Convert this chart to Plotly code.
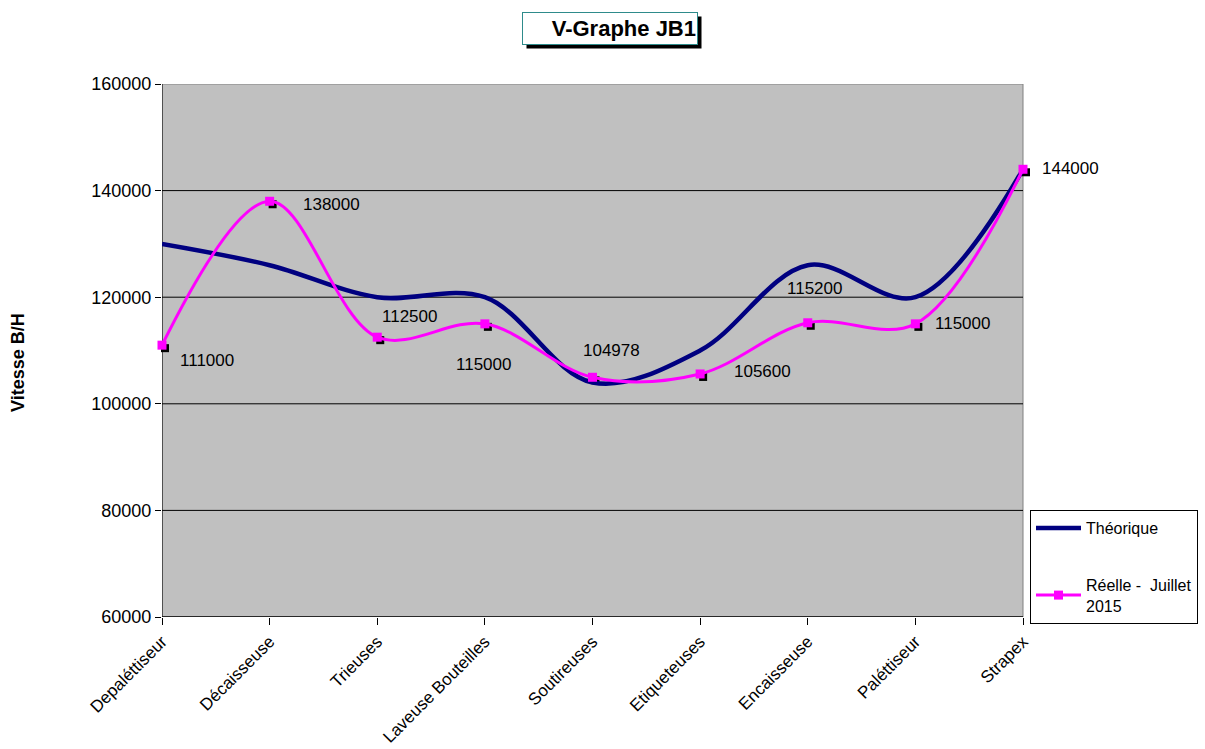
import plotly.graph_objects as go

categories = ["Depaléttiseur", "Décaisseuse", "Trieuses", "Laveuse Bouteilles",
              "Soutireuses", "Etiqueteuses", "Encaisseuse", "Paléttiseur", "Strapex"]
theorique = [130000, 126000, 120000, 120000, 104000, 110000, 126000, 120000, 144000]
reelle = [111000, 138000, 112500, 115000, 104978, 105600, 115200, 115000, 144000]
y_ticks = [60000, 80000, 100000, 120000, 140000, 160000]
y_grid = [80000, 100000, 120000, 140000]

# label offsets in pixels (style only)
lab_dx = [16, 31, 3, -31, -12, 32, -23, 18, 17]
lab_dy = [-15, -3, 21, -41, 27, 2, 34, 0, 1]

W, H = 1205, 749
ML, MT, MB = 162, 84, 132
CORE_W = 861          # pixel width from first to last category
EXT = 6               # extra px of domain to the right (keeps shadow in range)
PW = CORE_W + EXT
MR = W - ML - PW
PH = H - MT - MB
n = len(categories)
px_per_x = CORE_W / (n - 1)
XR = [0, (n - 1) + EXT / px_per_x]
YR = [60000, 160000]
SH = 3  # shadow offset in px
ys = YR[1] - YR[0]
FONT = "Liberation Sans, Arial, sans-serif"

xi = list(range(n))

fig = go.Figure()
# shadow markers on hidden overlay axes with shifted ranges
fig.add_trace(go.Scatter(x=xi, y=reelle, mode="markers", xaxis="x2", yaxis="y2",
                         marker=dict(symbol="square", size=8, color="black"),
                         showlegend=False, hoverinfo="skip", cliponaxis=False))
fig.add_trace(go.Scatter(x=xi, y=theorique, mode="lines", name="Théorique",
                         xaxis="x3", yaxis="y3", legendgroup="a",
                         line=dict(color="#000080", width=4.5, shape="spline", smoothing=1),
                         cliponaxis=False))
fig.add_trace(go.Scatter(x=xi, y=reelle, mode="lines+markers", name="Réelle -  Juillet<br>2015",
                         xaxis="x3", yaxis="y3", legendgroup="b",
                         line=dict(color="#FF00FF", width=3, shape="spline", smoothing=1),
                         marker=dict(symbol="square", size=9, color="#FF00FF"),
                         cliponaxis=False))

annotations = []
for i, v in enumerate(reelle):
    annotations.append(dict(x=i, y=v, xref="x", yref="y", text=str(v), showarrow=False,
                            xanchor="left", yanchor="middle", xshift=lab_dx[i], yshift=lab_dy[i],
                            font=dict(family=FONT, size=17, color="black")))

tx = (610 - ML) / PW
ty = (MT + PH - 29) / PH
# title box shadow + title
annotations.append(dict(x=tx, y=ty, xref="paper", yref="paper", xanchor="center", yanchor="middle",
                        text=" ", showarrow=False, width=172, height=29, bgcolor="black",
                        xshift=4, yshift=-4, borderpad=1))
annotations.append(dict(x=tx, y=ty, xref="paper", yref="paper", xanchor="center", yanchor="middle",
                        text="<b>V-Graphe JB1</b>", showarrow=False, width=172, height=29,
                        align="right", bgcolor="white", bordercolor="#2E8B8B", borderwidth=1,
                        borderpad=1, font=dict(family=FONT, size=22, color="black")))
# y axis title
annotations.append(dict(x=0, y=(MT + PH - 363) / PH, xref="paper", yref="paper", xshift=-144,
                        text="<b>Vitesse B/H</b>", textangle=-90, showarrow=False,
                        xanchor="center", yanchor="middle",
                        font=dict(family=FONT, size=18, color="black")))

shapes = [dict(type="rect", xref="x", yref="y", x0=0, x1=n - 1, y0=YR[0], y1=YR[1],
               fillcolor="#C0C0C0", line=dict(color="#808080", width=1), layer="below")]
for g in y_grid:
    shapes.append(dict(type="line", xref="x", yref="y", x0=0, x1=n - 1, y0=g, y1=g,
                       line=dict(color="black", width=1), layer="below"))
shapes.append(dict(type="line", xref="x", yref="y", x0=0, x1=0, y0=YR[0], y1=YR[1],
                   line=dict(color="black", width=1), layer="below"))
shapes.append(dict(type="line", xref="x", yref="y", x0=0, x1=n - 1, y0=YR[0], y1=YR[0],
                   line=dict(color="black", width=1.5), layer="below"))

hidden = dict(visible=False, showgrid=False, zeroline=False)

fig.update_layout(
    width=W, height=H,
    margin=dict(l=ML, r=MR, t=MT, b=MB, autoexpand=False),
    paper_bgcolor="white", plot_bgcolor="white",
    font=dict(family=FONT, size=18, color="black"),
    xaxis=dict(range=XR, tickmode="array", tickvals=xi, ticktext=categories, tickangle=-45,
               ticks="outside", ticklen=7, tickcolor="black", showline=False, automargin=False,
               showgrid=False, zeroline=False, tickfont=dict(size=17)),
    yaxis=dict(range=YR, tickmode="array", tickvals=y_ticks, ticktext=[str(t) for t in y_ticks],
               ticks="outside", ticklen=6, tickcolor="black", showline=False, automargin=False,
               showgrid=False, zeroline=False, tickfont=dict(size=18)),
    xaxis2=dict(overlaying="x", anchor="y2",
                range=[XR[0] - SH / px_per_x, XR[1] - SH / px_per_x], **hidden),
    yaxis2=dict(overlaying="y", anchor="x2",
                range=[YR[0] + SH * ys / PH, YR[1] + SH * ys / PH], **hidden),
    xaxis3=dict(overlaying="x", anchor="y3", range=XR, **hidden),
    yaxis3=dict(overlaying="y", anchor="x3", range=YR, **hidden),
    legend=dict(x=(1030 - ML) / PW, y=(MT + PH - 510) / PH, xanchor="left", yanchor="top",
                bgcolor="white", bordercolor="black", borderwidth=1, itemwidth=45,
                font=dict(family=FONT, size=16, color="black"), tracegroupgap=33),
    annotations=annotations,
    shapes=shapes,
    showlegend=True,
)

fig.write_html("out.html")
